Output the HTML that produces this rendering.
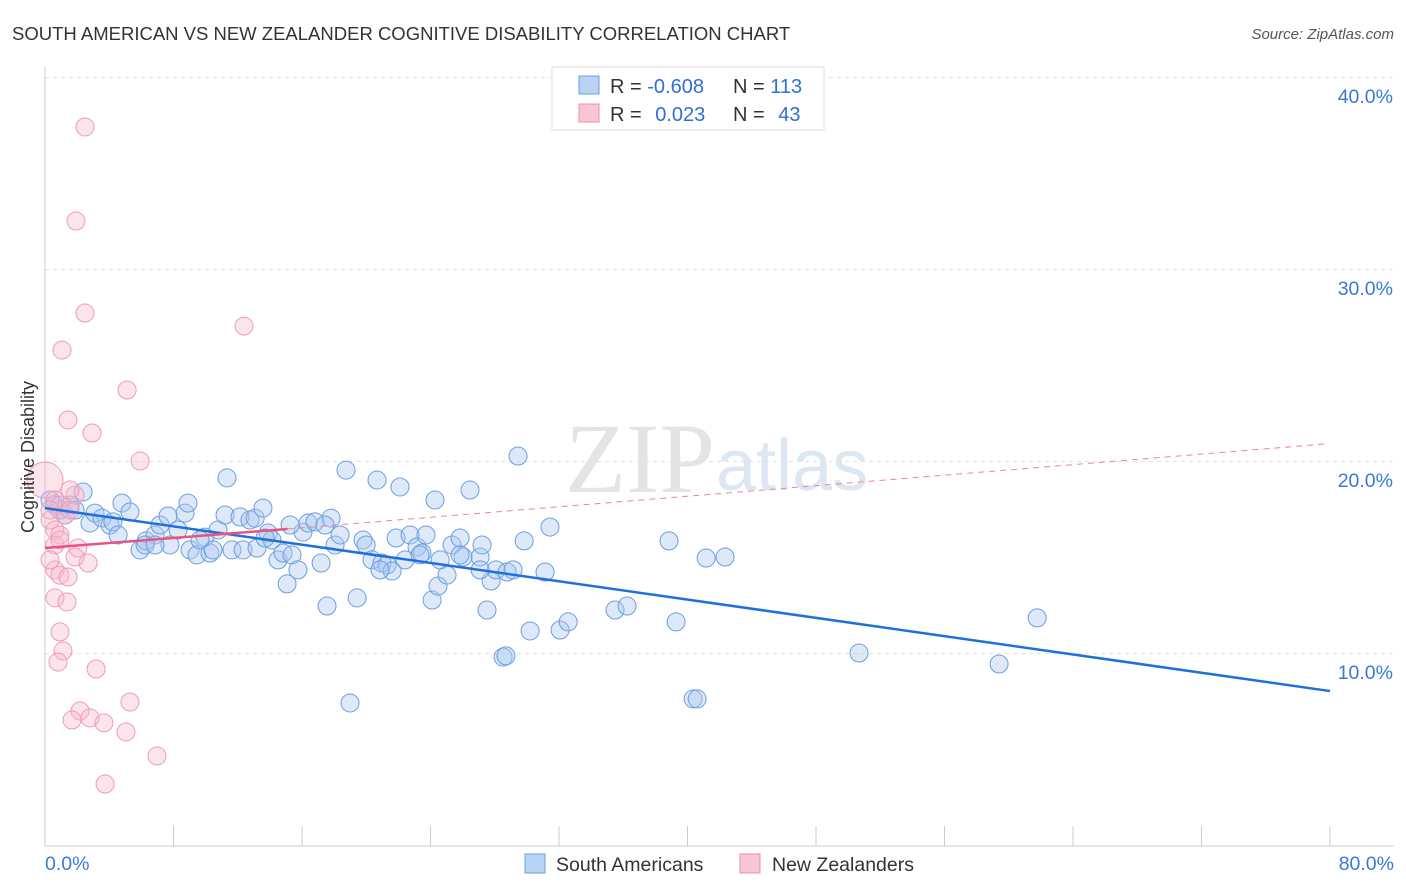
<!DOCTYPE html>
<html><head><meta charset="utf-8">
<style>
body{margin:0;background:#fff;font-family:"Liberation Sans",sans-serif;}
#wrap{position:relative;width:1406px;height:892px;overflow:hidden;}
</style></head>
<body>
<div id="wrap">
<svg id="svg" width="1406" height="892">
<text x="12" y="40" font-size="18.5" fill="#333">SOUTH AMERICAN VS NEW ZEALANDER COGNITIVE DISABILITY CORRELATION CHART</text>
<text x="1394" y="39" font-size="15" fill="#555" text-anchor="end" font-style="italic">Source: ZipAtlas.com</text>
<text x="715" y="492" font-size="100" fill="#e4e4e4" text-anchor="end" font-family="Liberation Serif">ZIP</text>
<text x="716" y="490" font-size="72" fill="#dde7f3">atlas</text>
<g id="grid"></g>
<g id="axes"></g>
<g id="marks"></g>
<text transform="translate(34,457) rotate(-90)" font-size="18" fill="#333" text-anchor="middle">Cognitive Disability</text>
<g>
<rect x="552" y="67" width="272" height="63" fill="#fff" stroke="#ddd"/>
<rect x="579" y="76" width="20" height="18" fill="#b9d3f5" stroke="#6d9de0"/>
<rect x="579" y="104" width="20" height="18" fill="#f9c6d3" stroke="#ec8ea8"/>
<text x="610" y="93" font-size="20" fill="#333">R = <tspan fill="#2f6fd8">-0.608</tspan></text>
<text x="733" y="93" font-size="20" fill="#333">N = <tspan fill="#2f6fd8">113</tspan></text>
<text x="610" y="121" font-size="20" fill="#333">R = <tspan fill="#2f6fd8" dx="8">0.023</tspan></text>
<text x="733" y="121" font-size="20" fill="#333">N = <tspan fill="#2f6fd8" dx="8">43</tspan></text>
</g>
<g>
<rect x="525" y="854" width="20" height="19" fill="#b9d3f5" stroke="#6d9de0"/>
<text x="556" y="871" font-size="19.5" fill="#333">South Americans</text>
<rect x="740" y="854" width="20" height="19" fill="#f9c6d3" stroke="#ec8ea8"/>
<text x="772" y="871" font-size="19.5" fill="#333">New Zealanders</text>
</g>
</svg>
</div>
<script>
const yTicks=[10,20,30,40];
const blueX=[0.62,0.93,1.25,0.31,1.56,1.87,2.37,2.8,3.11,3.55,4.05,4.79,4.23,4.55,5.29,5.92,6.29,6.85,7.16,7.66,7.78,8.28,8.72,8.9,9.03,9.46,9.96,10.27,10.46,10.77,11.21,11.33,11.64,12.14,12.33,12.76,13.08,13.2,13.57,13.89,14.13,14.51,14.82,15.07,15.38,15.75,16.06,16.38,16.81,17.19,17.56,17.81,18.06,18.37,18.74,18.99,19.43,19.8,19.99,20.36,20.67,20.98,21.3,21.61,21.86,22.1,22.42,22.73,23.16,23.47,23.72,24.1,24.28,24.47,25.03,25.34,25.84,26.03,26.46,27.09,27.21,27.52,27.77,28.08,28.52,28.77,29.14,29.45,29.83,30.2,31.13,31.44,32.07,32.57,35.49,36.24,38.85,39.29,40.35,40.6,41.16,42.34,50.68,59.4,61.77,27.09,25.84,24.6,23.35,20.86,17.43,15.26,13.7,9.65,6.23,6.85,28.7];
const blueY=[17.76,17.5,17.24,18.02,17.76,17.5,18.44,16.82,17.34,17.08,16.72,17.86,16.88,16.2,17.4,15.42,15.89,16.2,16.72,17.19,15.68,16.46,17.34,17.86,15.42,15.16,16.09,15.26,15.42,16.46,17.24,19.17,15.42,17.14,15.42,16.98,17.08,15.52,17.6,16.3,15.94,14.9,15.26,13.65,15.16,14.38,16.35,16.82,16.88,14.74,12.5,17.08,15.68,16.2,19.58,7.45,12.92,15.94,15.68,14.9,19.06,14.74,14.64,14.32,16.04,18.7,14.9,16.2,15.57,15.26,16.2,12.81,18.02,13.54,14.11,15.68,16.04,15.05,18.54,15.05,15.68,12.29,13.8,14.38,9.84,14.27,14.38,20.31,15.89,11.2,14.27,16.61,11.25,11.67,12.29,12.5,15.89,11.67,7.66,7.66,15.0,15.05,10.05,9.48,11.88,14.38,15.16,14.9,15.16,14.38,16.72,16.72,16.04,15.94,15.68,15.68,9.9];
const pinkX=[0,0.62,0.93,0.31,0.62,0.93,1.87,0.31,1.25,1.56,2.49,1.93,2.49,1.06,12.39,5.11,1.43,2.93,5.92,2.05,2.68,1.87,0.62,0.93,1.43,0.62,1.37,0.93,1.12,0.81,3.18,5.29,2.18,1.68,2.8,3.67,5.04,6.97,3.74,0.62,0.93,0.31,1.56];
const pinkY=[19.06,18.02,17.76,16.98,16.46,16.2,18.28,17.5,17.24,17.5,37.45,32.55,27.76,25.83,27.08,23.75,22.19,21.51,20.05,15.52,14.74,15.05,14.38,14.11,14.01,12.92,12.71,11.15,10.16,9.58,9.22,7.5,7.03,6.56,6.67,6.41,5.94,4.69,3.23,15.68,15.94,14.9,18.54];
const blueTrend=[0,17.6,80,8.07];
const pinkTrend=[0,15.52,15.1,16.51,79.7,20.94];
const NS='http://www.w3.org/2000/svg';
const X=v=>45+v/80*1285, Y=v=>846-v*19.2;
function mk(tag,attrs,parent){const e=document.createElementNS(NS,tag);for(const k in attrs)e.setAttribute(k,attrs[k]);parent.appendChild(e);return e;}
const grid=document.getElementById('grid'),axes=document.getElementById('axes'),marks=document.getElementById('marks');
yTicks.forEach(t=>{
 const l=mk('line',{x1:45,x2:1394,y1:Y(t)-0.5,y2:Y(t)-0.5,stroke:'#e2e2e2','stroke-dasharray':'4,4'},grid);
 
 
 const tx=mk('text',{x:1393,y:Y(t)+25,'font-size':19.5,fill:'#3b78d8','text-anchor':'end'},axes);
 tx.textContent=t.toFixed(1)+'%';
 
 
});
mk('line',{x1:45,x2:45,y1:67,y2:846,stroke:'#ccc'},axes);
mk('line',{x1:45,x2:1394,y1:846,y2:846,stroke:'#ccc'},axes);
for(let i=0;i<=10;i++){const l=mk('line',{x1:X(i*8),x2:X(i*8),y1:826,y2:846,stroke:'#ccc'},axes);
 
 }
[[0,'0.0%','start',45],[80,'80.0%','end',1394]].forEach(a=>{const t=mk('text',{x:a[3],y:870,'font-size':19.5,fill:'#3b78d8','text-anchor':a[2]},axes);t.textContent=a[1];
 
 });
blueX.forEach((v,i)=>{const c=mk('circle',{cx:X(v),cy:Y(blueY[i]),r:9,fill:'rgba(170,200,240,0.4)',stroke:'#6d9de0','stroke-width':1},marks);
 
 });
pinkX.forEach((v,i)=>{const c=mk('circle',{cx:X(v),cy:Y(pinkY[i]),r:i===0?18:9,fill:'rgba(248,185,205,0.38)',stroke:'#ef9bb3','stroke-width':1},marks);
 
 });
let l=mk('line',{x1:X(blueTrend[0]),y1:Y(blueTrend[1]),x2:X(blueTrend[2]),y2:Y(blueTrend[3]),stroke:'#1f6fdc','stroke-width':2.5},marks);


l=mk('line',{x1:X(pinkTrend[0]),y1:Y(pinkTrend[1]),x2:X(pinkTrend[2]),y2:Y(pinkTrend[3]),stroke:'#e8547f','stroke-width':2.5},marks);


l=mk('line',{x1:X(pinkTrend[2]),y1:Y(pinkTrend[3]),x2:X(pinkTrend[4]),y2:Y(pinkTrend[5]),stroke:'#e8849f','stroke-width':1,'stroke-dasharray':'6,5'},marks);


</script>
</body></html>
